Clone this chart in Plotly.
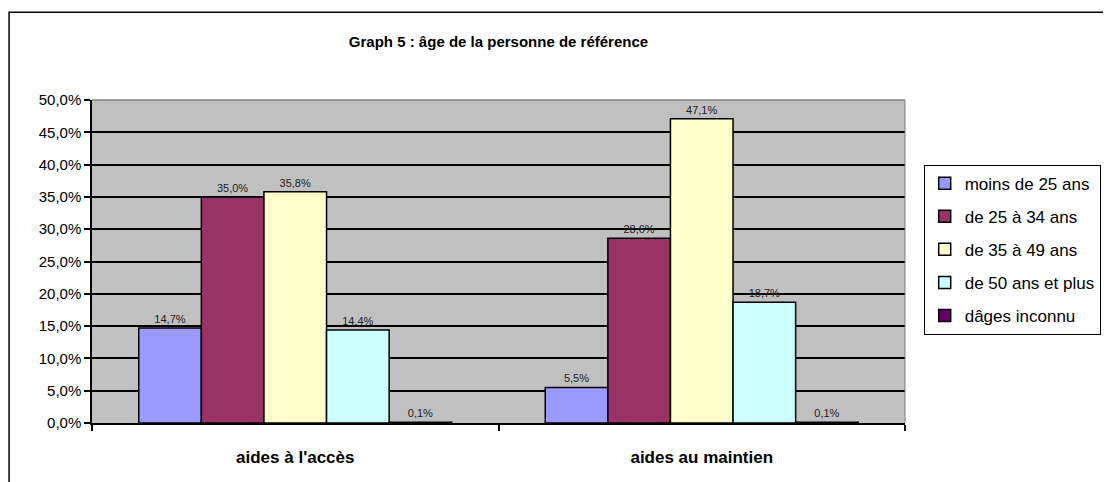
import plotly.graph_objects as go

categories = ["aides à l'accès", "aides au maintien"]
series_names = ["moins de 25 ans", "de 25 à 34 ans", "de 35 à 49 ans",
                "de 50 ans et plus", "dâges inconnu"]
moins_25 = [0.147, 0.055]
de_25_34 = [0.350, 0.286]
de_35_49 = [0.358, 0.471]
plus_50 = [0.144, 0.187]
inconnu = [0.001, 0.001]
series_values = [moins_25, de_25_34, de_35_49, plus_50, inconnu]
colors = ["#9999FF", "#993366", "#FFFFCC", "#CCFFFF", "#660066"]

FONT = "Liberation Sans, Arial, sans-serif"

fig = go.Figure()
for i in range(len(series_names)):
    fig.add_trace(go.Bar(
        x=categories,
        y=series_values[i],
        name=series_names[i],
        legendgroup=str(i),
        marker=dict(color=colors[i], line=dict(color="black", width=1.5)),
        text=[("%.1f%%" % (v * 100)).replace(".", ",") for v in series_values[i]],
        textposition="outside",
        textfont=dict(size=11, color="#222222", family=FONT),
        cliponaxis=False,
    ))

# the page puts the figure 8px in from the top-left corner
fig.update_layout(
    width=1111, height=482,
    margin=dict(l=84, r=214, t=92, b=67),
    paper_bgcolor="white",
    plot_bgcolor="#C0C0C0",
    separators=", ",
    barmode="group",
    bargap=0.23,
    bargroupgap=0,
    font=dict(family=FONT, color="black"),
    title=dict(text="<b>Graph 5 : âge de la personne de référence</b>",
               x=0.5, xref="paper", y=1 - 34 / 482, yanchor="middle",
               font=dict(size=15, color="black", family=FONT)),
    legend=dict(x=1.023, y=0.80, xanchor="left", yanchor="top",
                bordercolor="black", borderwidth=1, bgcolor="white",
                font=dict(size=17, color="black", family=FONT),
                traceorder="grouped", tracegroupgap=8, itemwidth=30),
    xaxis=dict(showline=True, linecolor="black", linewidth=1.5,
               ticks="outside", tickson="boundaries", ticklen=6, tickcolor="black",
               tickwidth=1.5, ticklabelstandoff=18,
               tickfont=dict(size=17, family=FONT, weight="bold")),
    yaxis=dict(range=[0, 0.5], dtick=0.05, tickformat=".1%",
               showline=True, linecolor="black", linewidth=1.5,
               ticks="outside", ticklen=6, tickcolor="black", tickwidth=1.5,
               showgrid=True, gridcolor="black", gridwidth=1.5,
               zeroline=False, tickfont=dict(size=15, family=FONT)),
    shapes=[
        dict(type="rect", xref="paper", yref="paper", x0=-0.102, x1=1.252,
             y0=-0.2, y1=1.272, line=dict(color="black", width=1.5)),
        dict(type="line", xref="paper", yref="paper", x0=0, x1=1, y0=1, y1=1,
             line=dict(color="#808080", width=1.5)),
        dict(type="line", xref="paper", yref="paper", x0=1, x1=1, y0=0, y1=1,
             line=dict(color="#808080", width=1)),
    ],
)

fig.write_html("out.html")
